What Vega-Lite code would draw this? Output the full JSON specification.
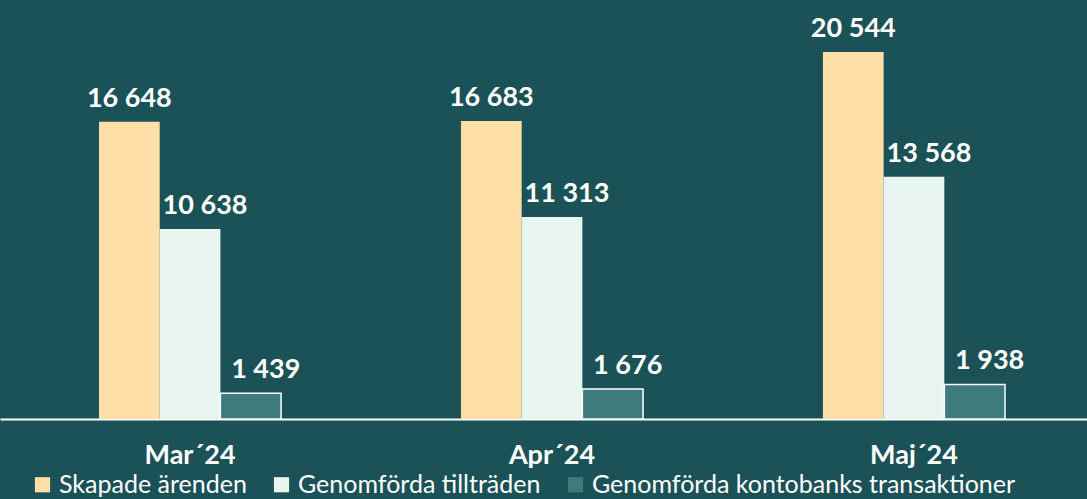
{
  "$schema": "https://vega.github.io/schema/vega-lite/v6.json",
  "width": 1087,
  "height": 419,
  "autosize": {"type": "none"},
  "padding": {"left": 0, "top": 0, "right": 0, "bottom": 80},
  "background": "#1b5257",
  "config": {
    "view": {"stroke": null},
    "locale": {"number": {"decimal": ",", "thousands": " ", "grouping": [3], "currency": ["", " kr"]}},
    "font": "Lato"
  },
  "data": {
    "values": [
      {"month": "Mar´24", "serie": "Skapade ärenden", "value": 16648},
      {"month": "Mar´24", "serie": "Genomförda tillträden", "value": 10638},
      {"month": "Mar´24", "serie": "Genomförda kontobanks transaktioner", "value": 1439},
      {"month": "Apr´24", "serie": "Skapade ärenden", "value": 16683},
      {"month": "Apr´24", "serie": "Genomförda tillträden", "value": 11313},
      {"month": "Apr´24", "serie": "Genomförda kontobanks transaktioner", "value": 1676},
      {"month": "Maj´24", "serie": "Skapade ärenden", "value": 20544},
      {"month": "Maj´24", "serie": "Genomförda tillträden", "value": 13568},
      {"month": "Maj´24", "serie": "Genomförda kontobanks transaktioner", "value": 1938}
    ]
  },
  "encoding": {
    "x": {
      "field": "month",
      "type": "nominal",
      "sort": ["Mar´24", "Apr´24", "Maj´24"],
      "scale": {"paddingInner": 0.497, "paddingOuter": 0.25, "align": 0.547},
      "axis": {
        "title": null,
        "labelAngle": 0,
        "labelColor": "#ffffff",
        "labelFont": "Lato",
        "labelFontSize": 27,
        "labelFontWeight": "bold",
        "labelPadding": 23,
        "ticks": false,
        "domainColor": "#ffffff",
        "domainWidth": 2,
        "grid": false
      }
    },
    "xOffset": {
      "field": "serie",
      "type": "nominal",
      "sort": ["Skapade ärenden", "Genomförda tillträden", "Genomförda kontobanks transaktioner"],
      "scale": {"paddingInner": 0, "paddingOuter": 0}
    },
    "y": {
      "field": "value",
      "type": "quantitative",
      "scale": {"domain": [0, 23460], "nice": false},
      "axis": null
    }
  },
  "layer": [
    {
      "mark": {"type": "bar", "strokeWidth": 1.5},
      "encoding": {
        "fill": {
          "field": "serie",
          "type": "nominal",
          "sort": ["Skapade ärenden", "Genomförda tillträden", "Genomförda kontobanks transaktioner"],
          "scale": {"range": ["#fedfa8", "#e8f5f0", "#3e7b7c"]},
          "legend": {
            "title": null,
            "orient": "none",
            "legendX": 30,
            "legendY": 472,
            "direction": "horizontal",
            "symbolType": "square",
            "symbolSize": 230,
            "symbolStrokeWidth": 1.5,
            "symbolOpacity": 1,
            "labelColor": "#ffffff",
            "labelFont": "Lato",
            "labelFontSize": 25,
            "labelLimit": 0,
            "labelOffset": 4,
            "columnPadding": 22
          }
        },
        "stroke": {
          "condition": {"test": "datum.serie === 'Genomförda kontobanks transaktioner'", "value": "#ffffff"},
          "value": null
        }
      }
    },
    {
      "transform": [{"filter": "datum.serie === 'Skapade ärenden'"}],
      "mark": {"type": "text", "baseline": "alphabetic", "dy": -15, "fontSize": 27, "fontWeight": "bold", "color": "#ffffff", "font": "Lato"},
      "encoding": {
        "text": {"field": "value", "type": "quantitative", "format": ",d"}
      }
    },
    {
      "transform": [{"filter": "datum.serie !== 'Skapade ärenden'"}],
      "mark": {"type": "text", "baseline": "alphabetic", "dy": -15, "dx": 15, "fontSize": 27, "fontWeight": "bold", "color": "#ffffff", "font": "Lato"},
      "encoding": {
        "text": {"field": "value", "type": "quantitative", "format": ",d"}
      }
    }
  ]
}
